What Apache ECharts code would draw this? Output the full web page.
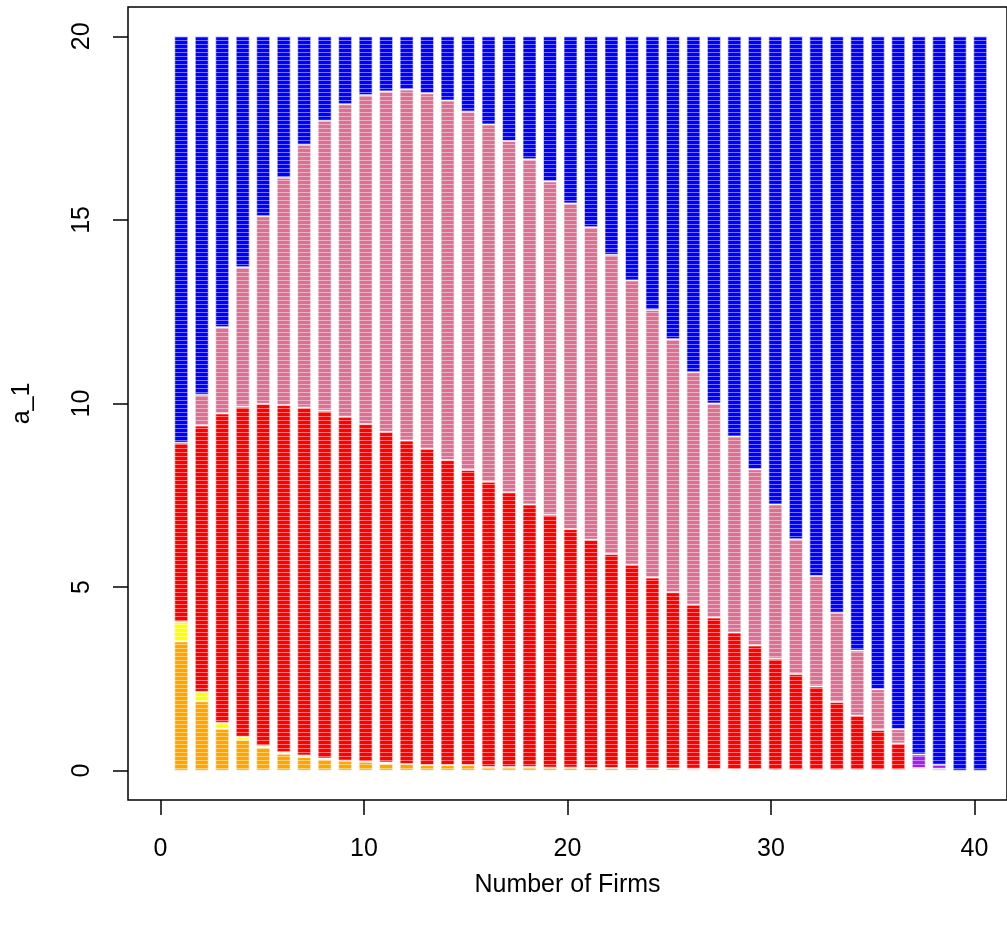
<!DOCTYPE html>
<html>
<head>
<meta charset="utf-8">
<script src="https://cdn.jsdelivr.net/npm/echarts@6/dist/echarts.min.js"></script>
<style>
  html, body { margin: 0; padding: 0; background: #fff; }
  #chart { width: 1007px; height: 925px; }
</style>
</head>
<body>
<div id="chart"></div>
<script>
/* Stacked share of a_1 by number of firms */

const firms = ['1','2','3','4','5','6','7','8','9','10','11','12','13','14','15','16','17','18','19','20',
  '21','22','23','24','25','26','27','28','29','30','31','32','33','34','35','36','37','38','39','40'];

const xTicks = [0, 10, 20, 30, 40];
const yTicks = [0, 5, 10, 15, 20];

// segment heights, bottom to top
const orangeVals = [3.52,1.89,1.14,0.84,0.63,0.46,0.37,0.31,0.27,0.24,0.19,0.18,0.15,0.15,0.15,0.10,0.10,0.10,0.08,0.08,
  0.07,0.07,0.06,0.06,0.06,0.05,0.04,0.03,0.03,0.02,0.02,0.02,0.02,0.02,0.02,0.02,0,0,0,0];
const yellowVals = [0.53,0.25,0.16,0.08,0.04,0.04,0.04,0.02,0,0,0.03,0,0,0,0,0,0,0,0,0,
  0,0,0,0,0,0,0,0,0,0,0,0,0,0,0,0,0,0,0,0];
const greenVals = [0,0,0,0,0,0,0,0,0,0,0,0,0,0,0,0,0,0,0,0,
  0,0,0,0,0,0,0,0,0,0,0,0,0,0,0,0,0.03,0.05,0,0];
const redVals = [4.88,7.26,8.43,8.99,9.32,9.46,9.48,9.47,9.37,9.20,9.01,8.81,8.62,8.31,8.04,7.77,7.48,7.15,6.89,6.50,
  6.22,5.83,5.55,5.20,4.80,4.47,4.13,3.73,3.38,3.03,2.61,2.27,1.85,1.48,1.09,0.72,0.04,0,0,0];
const pinkVals = [0,0.84,2.35,3.80,5.11,6.19,7.16,7.90,8.51,8.96,9.27,9.56,9.68,9.79,9.76,9.73,9.57,9.40,9.08,8.87,
  8.51,8.15,7.74,7.29,6.89,6.33,5.83,5.34,4.80,4.20,3.67,3.01,2.43,1.77,1.11,0.39,0,0,0,0];
const purpleVals = [0,0,0,0,0,0,0,0,0,0,0,0,0,0,0,0,0,0,0,0,
  0,0,0,0,0,0,0,0,0,0,0,0,0,0,0,0,0.37,0.11,0,0];
const blueVals = [11.07,9.76,7.92,6.29,4.90,3.85,2.95,2.30,1.85,1.60,1.50,1.45,1.55,1.75,2.05,2.40,2.85,3.35,3.95,4.55,
  5.20,5.95,6.65,7.45,8.25,9.15,10.00,10.90,11.79,12.75,13.70,14.70,15.70,16.73,17.78,18.87,19.56,19.84,20,20];

const layers = [
  { name: 'orange', color: '#FFA500', data: orangeVals },
  { name: 'yellow', color: '#FFFF00', data: yellowVals },
  { name: 'green', color: '#00CD00', data: greenVals },
  { name: 'red', color: '#FF0000', data: redVals },
  { name: 'pink', color: '#DB7093', data: pinkVals },
  { name: 'purple', color: '#A020F0', data: purpleVals },
  { name: 'blue', color: '#0000FF', data: blueVals }
];

const FONT = '"Liberation Sans", Arial, Helvetica, sans-serif';

// plot box: x from -1.6 to 41.6, y from -0.8 to 20.8
const boxLeft = 128, boxTop = 7, boxW = 885, boxH = 793;
const pxPerUnit = boxW / 43.2;

const chart = echarts.init(document.getElementById('chart'), null, { renderer: 'canvas' });

const stripes = {
  symbol: 'rect',
  symbolSize: 1,
  dashArrayX: [1, 0],
  dashArrayY: [1, 3],
  color: 'rgba(255,255,255,0.45)'
};

const series = layers.map(l => ({
  name: l.name,
  type: 'bar',
  stack: 'total',
  xAxisIndex: 1,
  yAxisIndex: 1,
  barWidth: 14,
  data: l.data.map(v => v === 0 ? '-' : v),
  itemStyle: {
    color: l.color,
    borderColor: 'rgba(255,255,255,0.35)',
    borderWidth: 1,
    decal: stripes
  },
  silent: true
}));

const option = {
  animation: false,
  backgroundColor: '#fff',
  textStyle: { fontFamily: FONT },
  grid: [
    { left: boxLeft, top: boxTop, width: boxW, height: boxH, show: true,
      borderColor: '#000', borderWidth: 1.5, backgroundColor: 'transparent' },
    { left: boxLeft + 2.1 * pxPerUnit, top: boxTop, width: 40 * pxPerUnit, height: boxH }
  ],
  xAxis: [
    {
      type: 'value', gridIndex: 0, min: -1.6, max: 41.6,
      name: 'Number of Firms', nameLocation: 'middle', nameGap: 73,
      nameTextStyle: { fontSize: 25, color: '#000', fontFamily: FONT },
      axisLine: { show: false, onZero: false },
      splitLine: { show: false },
      axisTick: { show: true, length: 15, customValues: xTicks, lineStyle: { color: '#000', width: 1.5 } },
      axisLabel: { customValues: xTicks, margin: 37, fontSize: 25, color: '#000', fontFamily: FONT }
    },
    {
      type: 'category', gridIndex: 1, data: firms, boundaryGap: true,
      axisLine: { show: false, onZero: false }, axisTick: { show: false }, axisLabel: { show: false }, splitLine: { show: false }
    }
  ],
  yAxis: [
    {
      type: 'value', gridIndex: 0, min: -0.8, max: 20.8,
      name: 'a_1', nameLocation: 'middle', nameGap: 93,
      nameTextStyle: { fontSize: 25, color: '#000', fontFamily: FONT },
      axisLine: { show: false, onZero: false },
      splitLine: { show: false },
      axisTick: { show: true, length: 15, customValues: yTicks, lineStyle: { color: '#000', width: 1.5 } },
      axisLabel: { customValues: yTicks, rotate: 90, margin: 33, fontSize: 25, color: '#000', fontFamily: FONT }
    },
    {
      type: 'value', gridIndex: 1, min: -0.8, max: 20.8,
      axisLine: { show: false, onZero: false }, axisTick: { show: false }, axisLabel: { show: false }, splitLine: { show: false }
    }
  ],
  series
};

chart.setOption(option);
window.addEventListener('resize', () => chart.resize());
</script>
</body>
</html>
